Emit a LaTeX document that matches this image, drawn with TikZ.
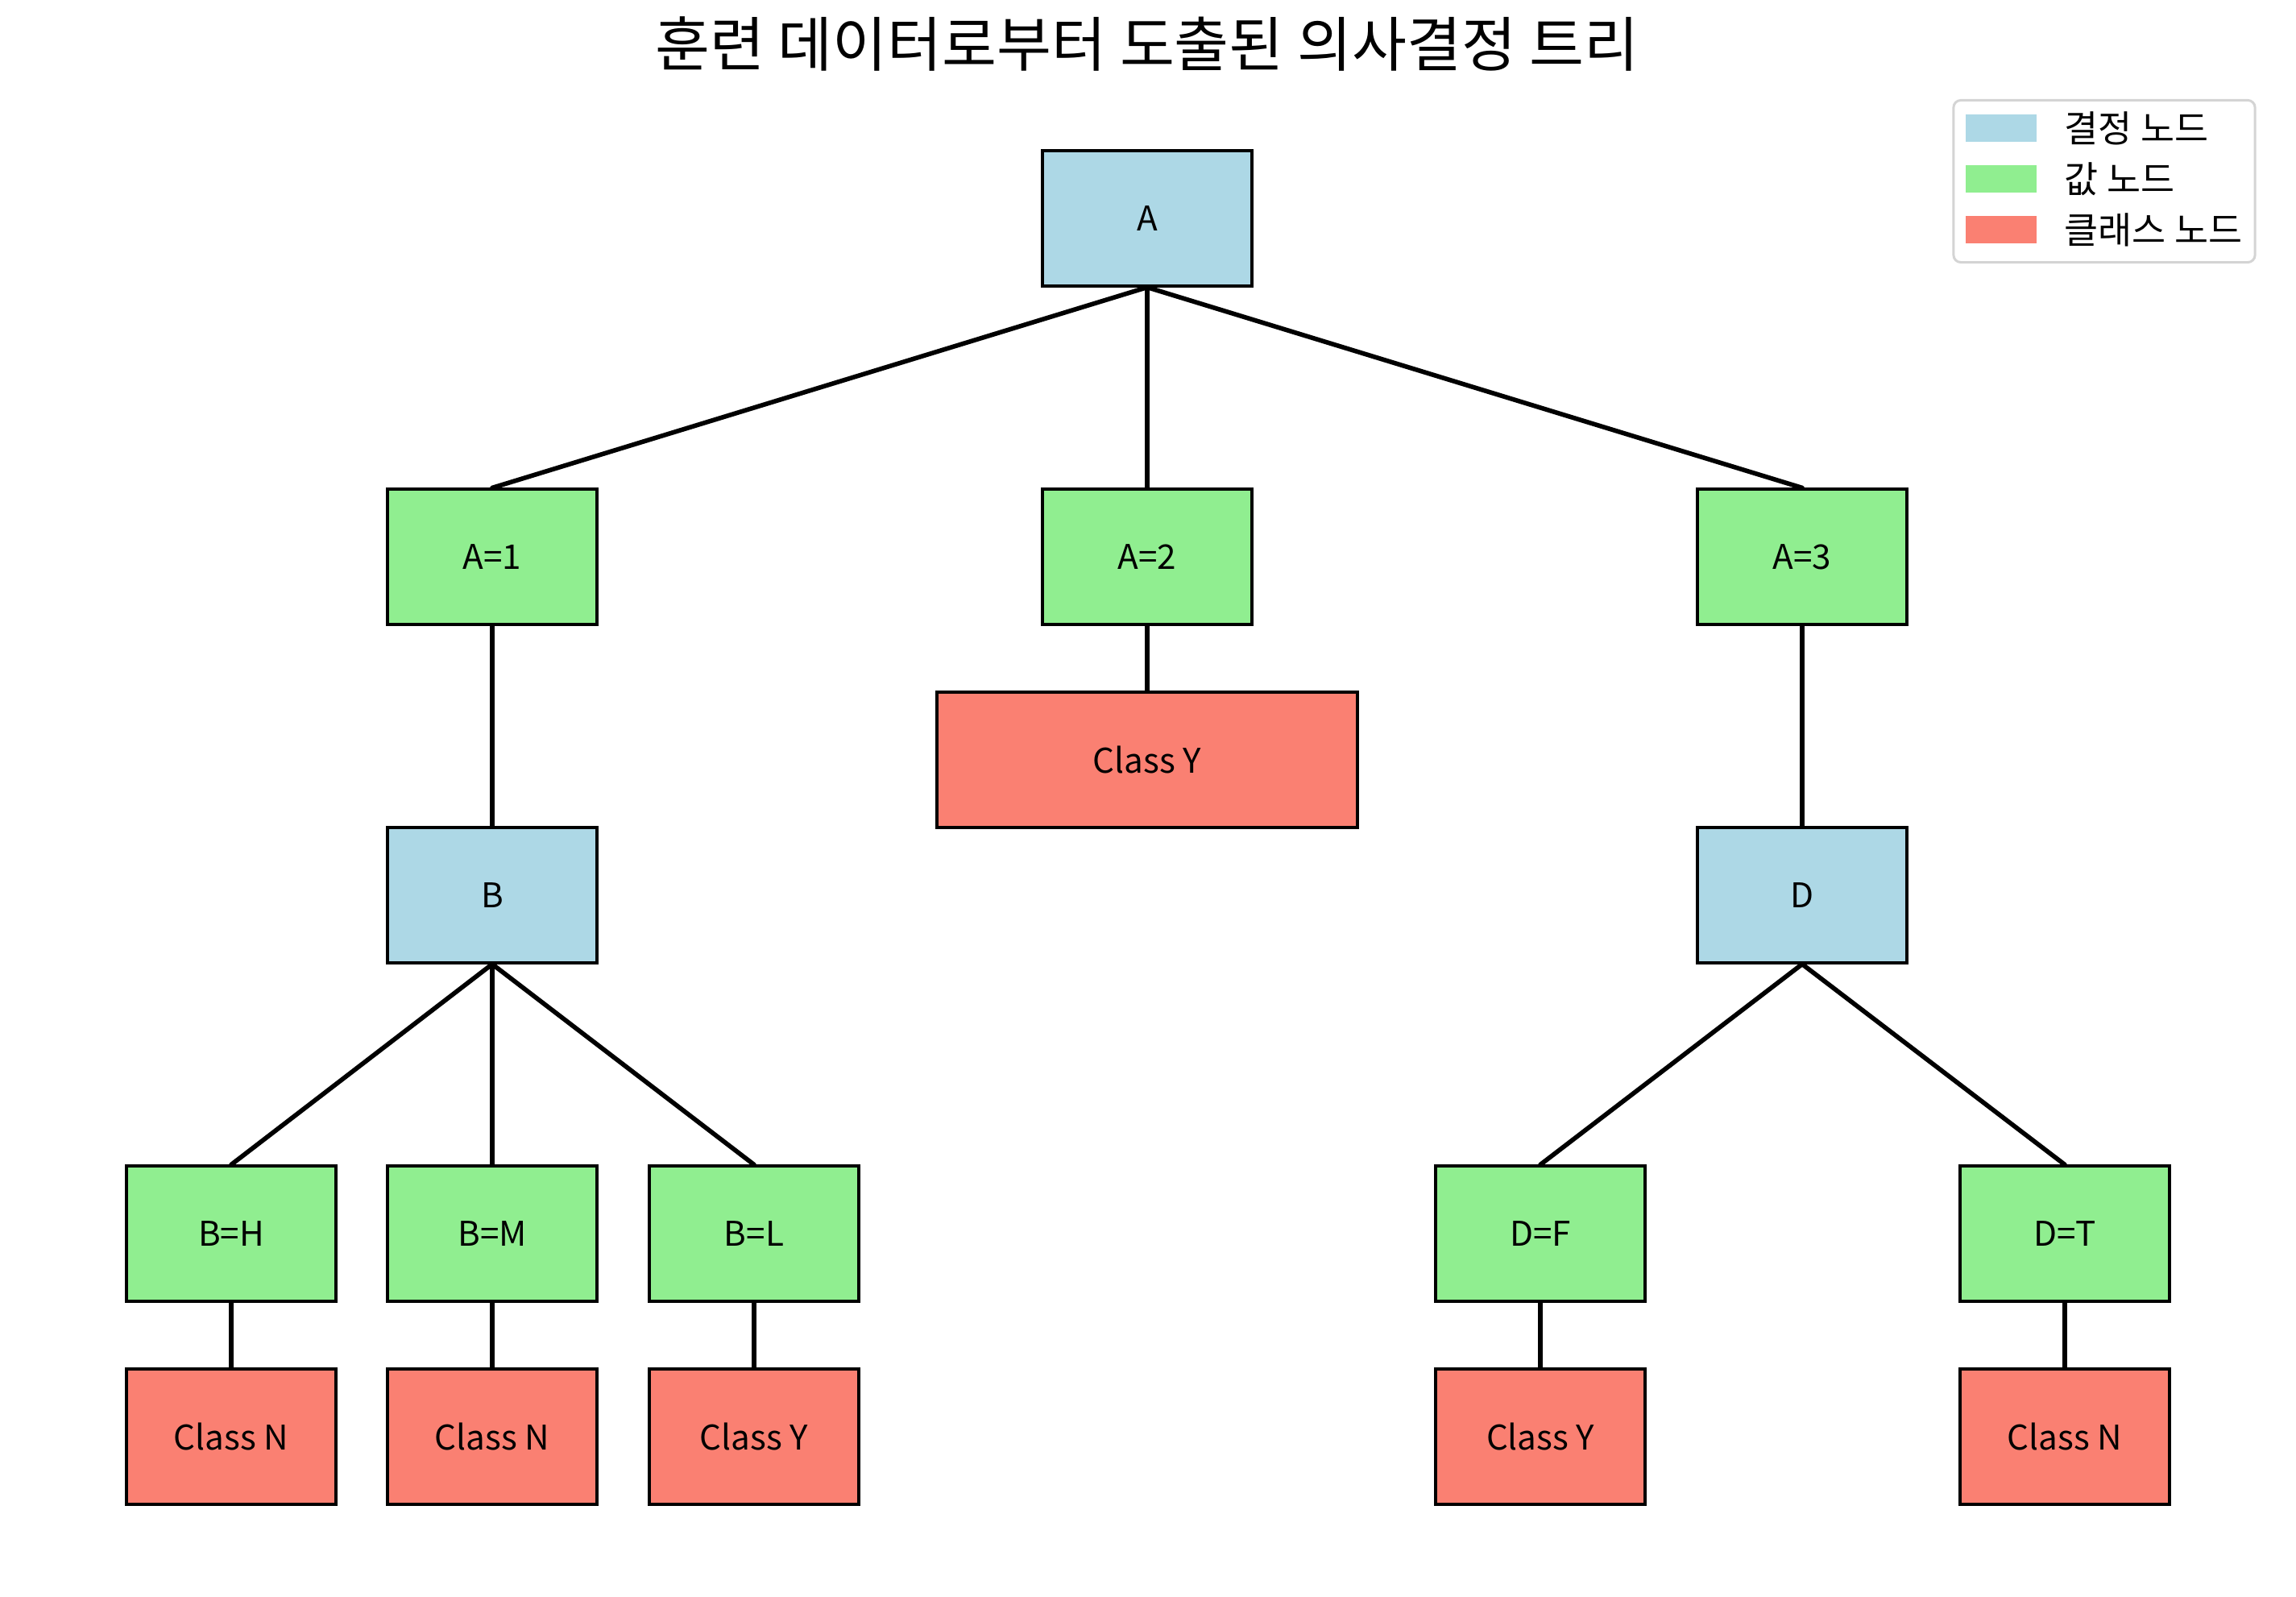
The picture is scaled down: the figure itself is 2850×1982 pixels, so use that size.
\documentclass[tikz,border=0pt]{standalone}
\usepackage{fontspec}
\setmainfont{Noto Sans CJK KR}
\newfontfamily\krfont{Noto Sans CJK KR}
\definecolor{declr}{HTML}{ADD8E6}
\definecolor{valclr}{HTML}{90EE90}
\definecolor{clsclr}{HTML}{FA8072}
\definecolor{legframe}{HTML}{D4D4D4}
\begin{document}
\begin{tikzpicture}[x=0.01cm, y=-0.01cm,
  box/.style={draw=black, line width=1.15pt, minimum width=2.6cm, minimum height=1.67cm,
              inner sep=0pt, font=\krfont\fontsize{12}{14}\selectfont},
  decbox/.style={box, fill=declr},
  valbox/.style={box, fill=valclr},
  clsbox/.style={box, fill=clsclr},
  link/.style={line width=1.6pt, line cap=round},
  legpatch/.style={minimum width=0.87cm, minimum height=0.33cm, inner sep=0pt},
  legtext/.style={anchor=west, inner sep=0pt, font=\krfont\fontsize{13}{15}\selectfont}]
\useasboundingbox (0,0) rectangle (2850,1982);

% title
\node[font=\krfont\fontsize{21}{25}\selectfont] (title) at (1424,55) {훈련 데이터로부터 도출된 의사결정 트리};

% tree nodes
\node[decbox] (A) at (1424,271) {A};
\node[valbox] (A1) at (611,691) {A=1};
\node[valbox] (A2) at (1424,691) {A=2};
\node[valbox] (A3) at (2237,691) {A=3};
\node[clsbox, minimum width=5.22cm] (CY) at (1424,943) {Class Y};
\node[decbox] (B) at (611,1111) {B};
\node[decbox] (D) at (2237,1111) {D};
\node[valbox] (BH) at (287,1531) {B=H};
\node[valbox] (BM) at (611,1531) {B=M};
\node[valbox] (BL) at (936,1531) {B=L};
\node[valbox] (DF) at (1912,1531) {D=F};
\node[valbox] (DT) at (2563,1531) {D=T};
\node[clsbox] (CBH) at (287,1783) {Class N};
\node[clsbox] (CBM) at (611,1783) {Class N};
\node[clsbox] (CBL) at (936,1783) {Class Y};
\node[clsbox] (CDF) at (1912,1783) {Class Y};
\node[clsbox] (CDT) at (2563,1783) {Class N};

% connectors
\foreach \p/\c in {A/A1, A/A2, A/A3, A2/CY, A1/B, A3/D, B/BH, B/BM, B/BL, D/DF, D/DT,
                   BH/CBH, BM/CBM, BL/CBL, DF/CDF, DT/CDT}
  \draw[link] (\p.south) -- (\c.north);

% legend
\node[draw=legframe, line width=0.85pt, fill=white, rounded corners=0.09cm,
      minimum width=3.74cm, minimum height=2.01cm, inner sep=0pt] (legend) at (2612,225) {};
\node[legpatch, fill=declr] (lp1) at (2484,159) {};
\node[legpatch, fill=valclr] (lp2) at (2484,222) {};
\node[legpatch, fill=clsclr] (lp3) at (2484,285) {};
\node[legtext] (lt1) at (2562,159) {결정 노드};
\node[legtext] (lt2) at (2562,222) {값 노드};
\node[legtext] (lt3) at (2562,285) {클래스 노드};
\end{tikzpicture}
\end{document}
